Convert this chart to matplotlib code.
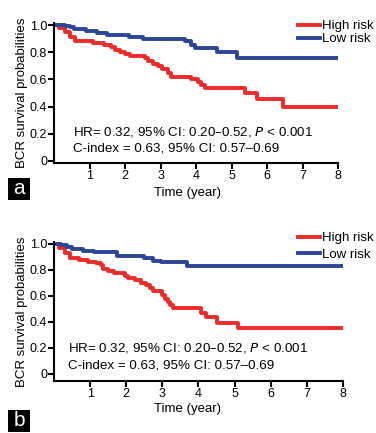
import matplotlib.pyplot as plt
from matplotlib.patches import Rectangle

plt.rcParams['font.family'] = ['Liberation Sans', 'DejaVu Sans']

RED = '#ee2a2a'
BLUE = '#2b4696'

# panel a (Kaplan-Meier step curves: time in years, survival probability)
a_high_t = [0, 0.15, 0.3, 0.45, 0.6, 1.1, 1.4, 1.6, 1.72, 1.85, 2.0, 2.15, 2.55, 2.65, 2.8,
            2.92, 3.05, 3.2, 3.3, 3.85, 4.05, 4.15, 4.25, 5.38, 5.71, 6.46, 8]
a_high_s = [1.0, 0.975, 0.95, 0.915, 0.88, 0.865, 0.85, 0.838, 0.82, 0.80, 0.785, 0.77, 0.755, 0.735, 0.715,
            0.695, 0.675, 0.65, 0.62, 0.60, 0.58, 0.56, 0.54, 0.50, 0.455, 0.395, 0.395]
a_low_t = [0, 0.3, 0.45, 0.55, 0.9, 1.2, 1.5, 2.1, 2.5, 3.7, 3.85, 3.97, 4.58, 5.15, 8]
a_low_s = [1.0, 0.995, 0.985, 0.97, 0.955, 0.94, 0.93, 0.915, 0.90, 0.88, 0.855, 0.83, 0.805, 0.755, 0.755]

# panel b
b_high_t = [0, 0.15, 0.3, 0.44, 0.7, 0.95, 1.15, 1.3, 1.36, 1.5, 1.65, 1.96, 2.05, 2.25, 2.4,
            2.55, 2.65, 2.75, 3.0, 3.08, 3.15, 3.22, 3.3, 4.08, 4.22, 4.5, 5.1, 8]
b_high_s = [1.0, 0.97, 0.93, 0.89, 0.877, 0.862, 0.85, 0.835, 0.81, 0.79, 0.775, 0.755, 0.74, 0.72, 0.70,
            0.685, 0.66, 0.635, 0.61, 0.58, 0.555, 0.53, 0.505, 0.47, 0.44, 0.39, 0.35, 0.35]
b_low_t = [0, 0.2, 0.35, 0.49, 0.8, 1.1, 1.75, 2.5, 2.75, 2.95, 3.67, 8]
b_low_s = [1.0, 0.99, 0.975, 0.96, 0.945, 0.935, 0.91, 0.89, 0.87, 0.86, 0.83, 0.83]

yticks = [0, 0.2, 0.4, 0.6, 0.8, 1.0]
ytick_labels = ['0', '0.2', '0.4', '0.6', '0.8', '1.0']
xticks = [1, 2, 3, 4, 5, 6, 7, 8]

fig = plt.figure(figsize=(3.76, 4.33), dpi=100)
W, H = 376, 433

panels = [
    dict(rect=[54, 163, 284, 140], ylim=(-0.015, 1.015), high=(a_high_t, a_high_s), low=(a_low_t, a_low_s),
         letter='a', box_y=178, xlab_y=193, leg_y=20, leg_sp=0.05, txt=(73, 132, 149)),
    dict(rect=[54, 381, 289, 139], ylim=(-0.054, 1.015), high=(b_high_t, b_high_s), low=(b_low_t, b_low_s),
         letter='b', box_y=410, xlab_y=409, leg_y=232, leg_sp=0.35, txt=(68, 348, 366)),
]

for p in panels:
    l, b, w, h = p['rect']
    ax = fig.add_axes([l / W, 1 - b / H, w / W, h / H])
    ax.step(*p['high'], where='post', color=RED, lw=2.8, label='High risk')
    ax.step(*p['low'], where='post', color=BLUE, lw=2.8, label='Low risk')
    ax.set_xlim(0, 8)
    ax.set_ylim(*p['ylim'])
    ax.set_xticks(xticks)
    ax.set_yticks(yticks)
    ax.set_yticklabels(ytick_labels)
    for s in ['top', 'right']:
        ax.spines[s].set_visible(False)
    for s in ['left', 'bottom']:
        ax.spines[s].set_linewidth(1.5)
    ax.tick_params(direction='out', length=4, width=1.5, labelsize=9, pad=1)
    ax.set_ylabel('BCR survival probabilities', fontsize=9.5, labelpad=1)
    tx, ty1, ty2 = p['txt']
    fig.text(tx / W, 1 - ty1 / H, r'HR= 0.32, 95% CI: 0.20–0.52, $\it{P}$ < 0.001',
             fontsize=9.6, va='center')
    fig.text(tx / W, 1 - ty2 / H, 'C-index = 0.63, 95% CI: 0.57–0.69', fontsize=9.6, va='center')
    fig.text(188 / W, 1 - p['xlab_y'] / H, 'Time (year)', fontsize=9.5, ha='center', va='center')
    by = p['box_y']
    fig.add_artist(Rectangle((8 / W, 1 - (by + 22) / H), 22 / W, 22 / H,
                             transform=fig.transFigure, fc='black', ec='none'))
    fig.text(19 / W, 1 - (by + 11) / H, p['letter'], fontsize=15, color='white',
             ha='center', va='center')
    ax.legend(loc='upper left', bbox_to_anchor=(298 / W, 1 - p['leg_y'] / H),
              bbox_transform=fig.transFigure, frameon=False, fontsize=9.5,
              handlelength=1.7, handletextpad=0.1, labelspacing=p['leg_sp'],
              borderpad=0, borderaxespad=0)

fig.savefig('out.png', dpi=100)
